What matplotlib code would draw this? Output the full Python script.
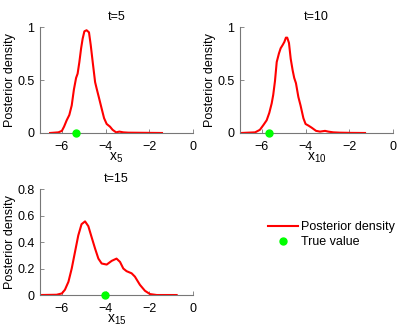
import matplotlib
matplotlib.use('Agg')
import matplotlib.pyplot as plt

plt.rcParams['font.family'] = ['Liberation Sans', 'DejaVu Sans']
plt.rcParams['font.size'] = 9
plt.rcParams['mathtext.fontset'] = 'custom'
plt.rcParams['mathtext.rm'] = 'Liberation Sans'
plt.rcParams['mathtext.it'] = 'Liberation Sans'

# posterior density curves
x_t5 = [-6.54, -6.16, -6.0, -5.9, -5.78, -5.66, -5.55, -5.45, -5.35, -5.28, -5.2, -5.12,
        -5.05, -4.97, -4.87, -4.76, -4.68, -4.59, -4.48, -4.41, -4.3, -4.18, -4.07, -3.95,
        -3.8, -3.68, -3.52, -3.37, -3.19, -2.96, -2.43, -1.9, -1.42]
y_t5 = [0.0, 0.006, 0.02, 0.06, 0.12, 0.17, 0.26, 0.41, 0.52, 0.56, 0.67, 0.8,
        0.89, 0.96, 0.97, 0.95, 0.83, 0.67, 0.48, 0.42, 0.33, 0.23, 0.14, 0.085,
        0.06, 0.03, 0.006, 0.013, 0.006, 0.003, 0.002, 0.001, 0.0]

x_t10 = [-6.95, -6.31, -6.09, -5.93, -5.78, -5.66, -5.55, -5.48, -5.4, -5.32, -5.22, -5.14,
         -5.05, -4.97, -4.9, -4.84, -4.76, -4.68, -4.59, -4.52, -4.44, -4.33, -4.23, -4.1,
         -4.0, -3.87, -3.72, -3.52, -3.34, -3.11, -2.96, -2.73, -2.43, -1.9, -1.28]
y_t10 = [0.0, 0.006, 0.03, 0.075, 0.12, 0.19, 0.28, 0.36, 0.49, 0.67, 0.75, 0.8,
         0.83, 0.86, 0.9, 0.9, 0.85, 0.7, 0.59, 0.52, 0.47, 0.34, 0.26, 0.14,
         0.085, 0.07, 0.05, 0.02, 0.013, 0.02, 0.013, 0.006, 0.003, 0.001, 0.0]

x_t15 = [-7.0, -6.24, -6.0, -5.86, -5.7, -5.55, -5.4, -5.25, -5.1, -4.94, -4.79, -4.64,
         -4.48, -4.33, -4.18, -3.95, -3.72, -3.5, -3.34, -3.19, -3.04, -2.81, -2.66,
         -2.43, -2.2, -1.97, -1.66, -0.75]
y_t15 = [0.0, 0.002, 0.012, 0.04, 0.1, 0.2, 0.325, 0.45, 0.535, 0.556, 0.52, 0.437,
         0.35, 0.275, 0.238, 0.23, 0.258, 0.275, 0.25, 0.2, 0.18, 0.164, 0.139,
         0.077, 0.032, 0.007, 0.0, 0.0]

true_vals = [-5.35, -5.67, -4.05]
titles = ['t=5', 't=10', 't=15']
xlabels = [r'$\mathregular{x_{5}}$', r'$\mathregular{x_{10}}$', r'$\mathregular{x_{15}}$']
ylims = [1, 1, 0.8]
yticks_list = [[0, 0.5, 1], [0, 0.5, 1], [0, 0.2, 0.4, 0.6, 0.8]]
ytick_labels = [['0', '0.5', '1'], ['0', '0.5', '1'], ['0', '0.2', '0.4', '0.6', '0.8']]
xticks = [-6, -4, -2, 0]

curves = [(x_t5, y_t5), (x_t10, y_t10), (x_t15, y_t15)]
positions = [[0.1003, 0.597, 0.3835, 0.321],
             [0.6015, 0.597, 0.3835, 0.321],
             [0.1003, 0.106, 0.3835, 0.321]]

fig = plt.figure(figsize=(3.99, 3.30), dpi=100)
axes = []
for i in range(3):
    ax = fig.add_axes(positions[i])
    l1, = ax.plot(curves[i][0], curves[i][1], color='red', linewidth=1.5, label='Posterior density')
    l2, = ax.plot([true_vals[i]], [0], 'o', color='#00ff00', markersize=5, label='True value',
                  clip_on=False, zorder=5)
    ax.set_xlim(-7, 0)
    ax.set_ylim(0, ylims[i])
    ax.set_xticks(xticks)
    ax.set_xticklabels(['\u22126', '\u22124', '\u22122', '0'])
    ax.set_yticks(yticks_list[i])
    ax.set_yticklabels(ytick_labels[i])
    ax.set_title(titles[i], fontsize=9, pad=5)
    ax.set_xlabel(xlabels[i], labelpad=-2, fontsize=10)
    ax.set_ylabel('Posterior density', labelpad=1)
    ax.spines['top'].set_visible(False)
    ax.spines['right'].set_visible(False)
    for s in ['left', 'bottom']:
        ax.spines[s].set_color('#777777')
        ax.spines[s].set_linewidth(0.8)
    ax.tick_params(direction='in', length=3, width=0.6, color='#777777', pad=4)
    ax.tick_params(axis='x', pad=6)
    axes.append(ax)

fig.legend([l1, l2], ['Posterior density', 'True value'], loc='center left',
           bbox_to_anchor=(0.655, 0.289), frameon=False, borderpad=0,
           handlelength=2.4, handletextpad=0.3, labelspacing=0.2, numpoints=1)

fig.savefig('out.png', dpi=100)
